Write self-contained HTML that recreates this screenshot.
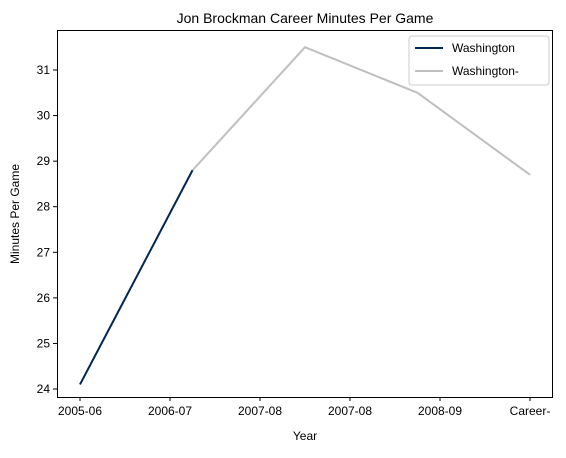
<!DOCTYPE html>
<html><head><meta charset="utf-8"><style>
body{margin:0;background:#fff;}
svg text{font-family:"Liberation Sans","DejaVu Sans",sans-serif;fill:#000;}
</style></head><body>
<svg id="chart" width="566" height="453">
<rect width="566" height="453" fill="#fff"/>
<text x="305" y="23" font-size="14" text-anchor="middle">Jon Brockman Career Minutes Per Game</text>
<g id="axes"></g>
<g id="series"></g>
<rect x="57.5" y="30.5" width="495" height="367" fill="none" stroke="#000" stroke-width="1"/>
<text x="305" y="440" font-size="12" text-anchor="middle">Year</text>
<text transform="translate(19,214) rotate(-90)" font-size="12" text-anchor="middle">Minutes Per Game</text>
<g>
<rect x="409" y="36" width="140" height="49" rx="3" fill="#fff" stroke="#ccc"/>
<line x1="415" y1="48" x2="443" y2="48" stroke="#002855" stroke-width="2"/>
<text x="452" y="52" font-size="12">Washington</text>
<line x1="415" y1="71" x2="443" y2="71" stroke="#bfbfbf" stroke-width="2"/>
<text x="452" y="75" font-size="12">Washington-</text>
</g>
</svg>
<script>
const xTickLabels=["2005-06","2006-07","2007-08","2007-08","2008-09","Career-"];
const yTicks=[24,25,26,27,28,29,30,31];
const washingtonPos=[0,1.25];
const washingtonVals=[24.1,28.8];
const washDashPos=[1.25,2.5,3.75,5];
const washDashVals=[28.8,31.5,30.5,28.7];
const NS="http://www.w3.org/2000/svg";
function xs(i){return 80+i*90;}
function ys(v){return 389-(v-24)*45.57;}
const axes=document.getElementById('axes');
const ser=document.getElementById('series');
function mk(tag,attrs,parent){const e=document.createElementNS(NS,tag);for(const k in attrs)e.setAttribute(k,attrs[k]);parent.appendChild(e);return e;}
xTickLabels.forEach((l,i)=>{
 const t=mk('line',{x1:xs(i),x2:xs(i),y1:397,y2:401,stroke:'#000'},axes);
 
 
 const tx=mk('text',{x:xs(i),y:415,'font-size':12,'text-anchor':'middle'},axes);
 tx.textContent=l;
 
 
});
yTicks.forEach(v=>{
 const t=mk('line',{x1:53,x2:57,y1:ys(v),y2:ys(v),stroke:'#000'},axes);
 
 
 const tx=mk('text',{x:50,y:ys(v)+4,'font-size':12,'text-anchor':'end'},axes);
 tx.textContent=v;
 
 
});
function line(pos,vals,color,name){
 const p=mk('polyline',{points:pos.map((x,i)=>xs(x)+','+ys(vals[i])).join(' '),fill:'none',stroke:color,'stroke-width':2},ser);
 
 
}
line(washDashPos,washDashVals,'#bfbfbf','washington-dash-line');
line(washingtonPos,washingtonVals,'#002855','washington-line');
</script>
</body></html>
